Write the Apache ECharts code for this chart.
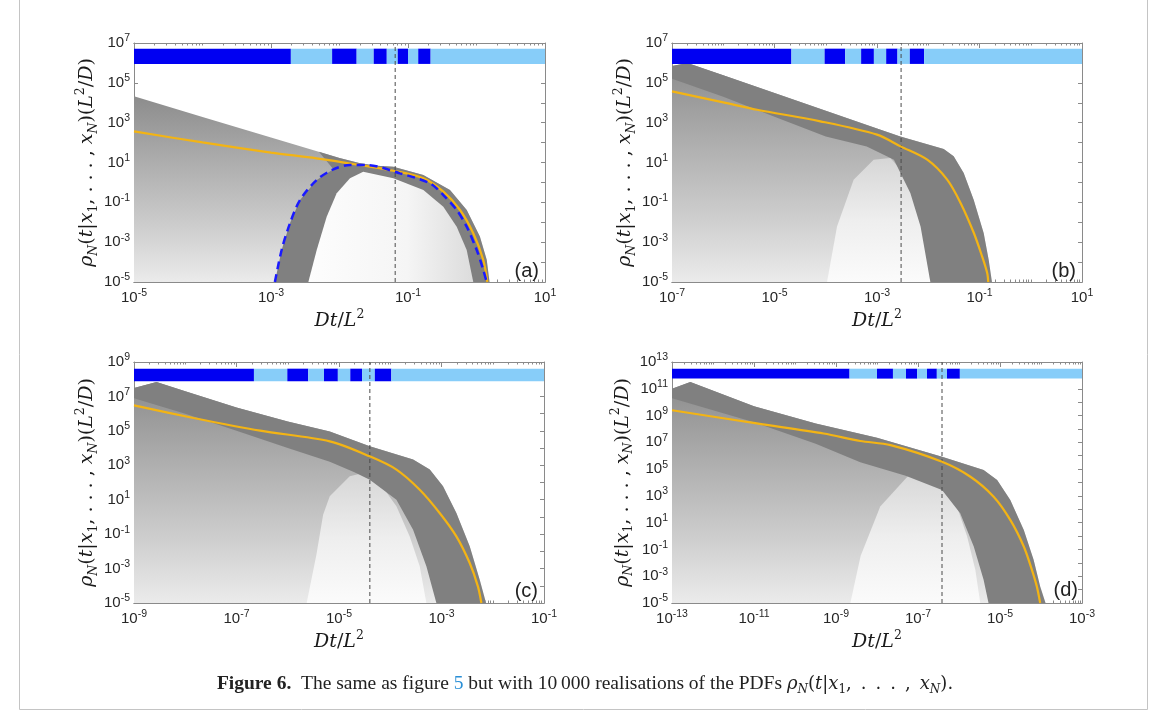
<!DOCTYPE html>
<html>
<head>
<meta charset="utf-8">
<script src="https://cdn.jsdelivr.net/npm/echarts@6/dist/echarts.min.js"></script>
<style>html,body{margin:0;padding:0;background:#fff}#c{width:1165px;height:717px}</style>
</head>
<body>
<div id="c"></div>
<script>
// ---------------- data ----------------
// Panel (a)
const xLabelsA = [1e-5, 1e-3, 1e-1, 1e1];
const yLabelsA = [1e-5, 1e-3, 1e-1, 1e1, 1e3, 1e5, 1e7];
const envelopeA = [[1e-5,2.1e4],[1e-4,1.95e3],[1e-3,182],[1e-2,17],[0.02,9.1],[0.035,6.9],[0.061,6.2],[0.167,2.35],[0.41,0.42],[0.72,0.041],[1.12,1.9e-3],[1.41,1.3e-4],[1.55,1e-5]];
const darkEdgeA = [[5e-3,35],[8.13e-3,4.54],[4.65e-3,1.32],[2.65e-3,0.131],[1.89e-3,8.8e-3],[1.43e-3,4.05e-4],[1.14e-3,1e-5]];
const holeA = [[3.51e-3,1e-5],[4.65e-3,4.05e-4],[6.5e-3,0.019],[9.1e-3,0.284],[0.01422,1.6],[0.0222,3.47],[0.0611,1.6],[0.1675,0.416],[0.328,0.0605],[0.514,6.0e-3],[0.719,4.05e-4],[0.897,1e-5]];
const orangeA = [[1e-5,363],[1e-4,102],[1e-3,31.6],[4.6e-3,16.2],[0.0199,7.5],[0.061,3.87],[0.1675,1.6],[0.328,0.342],[0.574,0.0412],[0.897,2.78e-3],[1.256,1.27e-4],[1.44,1e-5]];
const blueA = [[1.14e-3,1e-5],[1.43e-3,4.05e-4],[1.89e-3,8.8e-3],[2.65e-3,0.131],[4.65e-3,1.32],[8.13e-3,4.54],[0.01422,7.48],[0.0249,7.48],[0.0764,2.86],[0.2094,0.9],[0.328,0.233],[0.514,0.0412],[0.719,6.0e-3],[1.007,4.05e-4],[1.256,4.0e-5],[1.406,1e-5]];
const barA = [1e-5,1.95e-3,7.8e-3,0.0178,0.0316,0.049,0.0708,0.1,0.141,0.214,10];
const barYA = [8.9e5, 5.2e6];
const vlineA = 0.065;

// Panel (b)
const xLabelsB = [1e-7, 1e-5, 1e-3, 1e-1, 1e1];
const yLabelsB = [1e-5, 1e-3, 1e-1, 1e1, 1e3, 1e5, 1e7];
const envelopeB = [[1e-7,7.1e5],[2e-7,1e6],[1e-6,2.4e5],[1e-5,3.1e4],[1e-4,4e3],[1e-3,513],[2.85e-3,204],[0.02,47.6],[0.0313,20.4],[0.0491,2.97],[0.0769,0.136],[0.1205,2.88e-3],[0.151,1.32e-4],[0.175,1e-5]];
const darkEdgeB = [[1e-7,1.6e5],[1e-6,2.0e4],[1e-5,2.0e3],[1e-4,200],[6.3e-4,63],[2.14e-3,13.8],[4.47e-3,0.295],[7.08e-3,6.2e-3],[0.011,1e-5]];
const holeB = [[1.06e-4,1e-5],[1.66e-4,6.2e-3],[3.5e-4,1.37],[8.6e-4,13.8],[1.82e-3,16.8],[3.31e-3,2.95],[5.19e-3,0.136],[8.13e-3,1.95e-3],[0.011,1e-5]];
const orangeB = [[1e-7,3.7e4],[1e-6,1.05e4],[4.57e-6,4.47e3],[7.83e-5,1.17e3],[1e-3,251],[2.88e-3,64.6],[9.55e-3,13.8],[0.0234,1.38],[0.0427,0.0933],[0.0776,2.88e-3],[0.1122,1.95e-4],[0.1413,2.82e-5],[0.148,1e-5]];
const barB = [1e-7,2.14e-5,9.5e-5,2.4e-4,4.9e-4,8.7e-4,1.51e-3,2.51e-3,4.37e-3,8.3e-3,10];
const barYB = [8.9e5, 5.2e6];
const vlineB = 2.95e-3;

// Panel (c)
const xLabelsC = [1e-9, 1e-7, 1e-5, 1e-3, 1e-1];
const yLabelsC = [1e-5, 1e-3, 1e-1, 1e1, 1e3, 1e5, 1e7, 1e9];
const envelopeC = [[1e-9,3.1e7],[2.75e-9,6.9e7],[1e-8,2.0e7],[1e-7,2.3e6],[1e-6,3.5e5],[6.6e-6,9.3e4],[3.98e-5,1.26e4],[2.79e-4,2.14e3],[5.9e-4,562],[1.07e-3,60],[1.95e-3,1.7],[3.55e-3,0.0195],[5.55e-3,2.29e-4],[7.4e-3,1e-5]];
const darkEdgeC = [[1e-9,7.9e6],[1e-8,1e6],[1e-7,1e5],[1e-6,1e4],[6.6e-6,1.58e3],[2.0e-5,398],[3.98e-5,146],[1.32e-4,10],[2.79e-4,0.182],[5.07e-4,1.35e-3],[7.94e-4,1e-5]];
const holeC = [[2.34e-6,1e-5],[3.63e-6,6.5e-3],[4.9e-6,1.35],[6.6e-6,15.7],[1.62e-5,229],[2.95e-5,355],[6.24e-5,93],[1.32e-4,4.17],[2.4e-4,0.074],[3.76e-4,1.35e-3],[5.07e-4,1e-5]];
const orangeC = [[1e-9,3.0e6],[1.45e-8,5.6e5],[2.9e-7,1.02e5],[6.6e-6,2.45e4],[3.98e-5,3.3e3],[1.32e-4,562],[3.76e-4,38],[9.2e-4,1.7],[1.95e-3,0.074],[3.55e-3,2.09e-3],[5.13e-3,9.3e-5],[6.0e-3,1e-5]];
const barC = [1e-9,2.19e-7,9.8e-7,2.51e-6,5.1e-6,9.5e-6,1.66e-5,2.82e-5,5.0e-5,1.05e-4,0.1];
const barYC = [7.6e7, 4.1e8];
const vlineC = 4.0e-5;

// Panel (d)
const xLabelsD = [1e-13, 1e-11, 1e-9, 1e-7, 1e-5, 1e-3];
const yLabelsD = [1e-5, 1e-3, 1e-1, 1e1, 1e3, 1e5, 1e7, 1e9, 1e11, 1e13];
const envelopeD = [[1e-13,1.0e11],[2.8e-13,3.2e11],[1e-11,5.0e9],[3.2e-10,2.5e8],[1e-8,2.2e7],[3.85e-7,8.3e5],[3.98e-6,8.5e4],[8.5e-6,1.55e4],[1.78e-5,501],[3.8e-5,2.88],[6.6e-5,0.017],[9.55e-5,1.74e-4],[1.29e-4,1e-5]];
const darkEdgeD = [[1e-13,2.0e10],[1e-11,3.2e8],[3.2e-10,7.9e6],[3.9e-9,3.2e5],[5.0e-8,3.2e4],[3.85e-7,2.75e3],[1.07e-6,50],[2.29e-6,0.166],[3.98e-6,5.5e-4],[5.25e-6,1e-5]];
const holeD = [[2.24e-9,1e-5],[3.98e-9,0.032],[1.2e-8,158],[6.5e-8,4.8e4],[1.66e-7,8.5e4],[3.85e-7,1.55e4],[8.9e-7,158],[1.58e-6,0.93],[2.5e-6,3.0e-3],[3.3e-6,1e-5]];
const orangeD = [[1e-13,2.5e9],[1.17e-11,2.57e8],[5.0e-10,4.57e7],[3.9e-9,1.26e7],[2.14e-8,6.2e6],[3.85e-7,3.55e5],[1.9e-6,2.7e4],[7.0e-6,871],[1.78e-5,16.2],[3.8e-5,0.166],[6.0e-5,3.0e-3],[7.9e-5,1.74e-4],[9.55e-5,1e-5]];
const barD = [1e-13,2.14e-9,1e-8,2.45e-8,5.1e-8,9.5e-8,1.66e-7,2.88e-7,5.1e-7,1.05e-6,1e-3];
const barYD = [5.75e11, 3.16e12];
const vlineD = 3.85e-7;

const panelTags = ['(a)', '(b)', '(c)', '(d)'];

// ---------------- layout & style ----------------
const panels = [
  {left:134, top:43,  width:411, height:239, xLabels:xLabelsA, yLabels:yLabelsA, env:envelopeA, edge:darkEdgeA, hole:holeA, orange:orangeA, blue:blueA, bar:barA, barY:barYA, vline:vlineA, holeOnTop:true, tagPos:[539,281]},
  {left:672, top:43,  width:410, height:239, xLabels:xLabelsB, yLabels:yLabelsB, env:envelopeB, edge:darkEdgeB, hole:holeB, orange:orangeB, bar:barB, barY:barYB, vline:vlineB, tagPos:[1076,281]},
  {left:134, top:362, width:410, height:241, xLabels:xLabelsC, yLabels:yLabelsC, env:envelopeC, edge:darkEdgeC, hole:holeC, orange:orangeC, bar:barC, barY:barYC, vline:vlineC, tagPos:[538,601]},
  {left:672, top:362, width:410, height:241, xLabels:xLabelsD, yLabels:yLabelsD, env:envelopeD, edge:darkEdgeD, hole:holeD, orange:orangeD, bar:barD, barY:barYD, vline:vlineD, tagPos:[1078,600]}
];

const AX = '#8a8a8a';
const SANS = 'Liberation Sans';
const MATH = 'DejaVu Serif';
const SERIF = 'Liberation Serif';
const TXT = '#262626';
const DARK_BLUE = '#0000f2';
const LIGHT_BLUE = '#87cdf9';

const tickRich = {
  b: {fontFamily: SANS, fontSize: 15, color: TXT, lineHeight: 20},
  s: {fontFamily: SANS, fontSize: 10.5, color: TXT, lineHeight: 11, verticalAlign: 'top'}
};
const tickFmt = v => '{b|10}{s|' + Math.round(Math.log10(v)) + '}';

const mathRich = {
  i: {fontFamily: MATH, fontStyle: 'italic', fontSize: 19, color: '#1a1a1a', lineHeight: 26},
  n: {fontFamily: MATH, fontSize: 19, color: '#1a1a1a', lineHeight: 26},
  sub: {fontFamily: MATH, fontStyle: 'italic', fontSize: 12.5, color: '#1a1a1a', lineHeight: 13, verticalAlign: 'bottom'},
  sub1: {fontFamily: MATH, fontSize: 12.5, color: '#1a1a1a', lineHeight: 13, verticalAlign: 'bottom'},
  sup: {fontFamily: MATH, fontSize: 12.5, color: '#1a1a1a', lineHeight: 13, verticalAlign: 'top'}
};
const yName = '{i|ρ}{sub|N}{n|(}{i|t}{n||}{i|x}{sub1|1}{n|, . . . , }{i|x}{sub|N}{n|)(}{i|L}{sup|2}{n|/}{i|D}{n|)}';
const xName = '{i|Dt}{n|/}{i|L}{sup|2}';

function decades(lo, hi) {
  const out = [];
  for (let e = Math.round(Math.log10(lo)); e <= Math.round(Math.log10(hi)); e++) out.push(Number('1e' + e));
  return out;
}
function minors(lo, hi, majors) {
  const out = [];
  const a = Math.round(Math.log10(lo)), b = Math.round(Math.log10(hi));
  for (let e = a; e < b; e++) for (let k = 1; k <= 9; k++) {
    const v = Number(k + 'e' + e);
    if (majors.indexOf(v) < 0) out.push(v);
  }
  return out;
}

const option = {animation: false, backgroundColor: '#fff', grid: [], xAxis: [], yAxis: [], series: [], graphic: []};

function polygonSeries(i, pts, fill, z) {
  return {
    type: 'custom', coordinateSystem: 'cartesian2d', xAxisIndex: 4 * i, yAxisIndex: 2 * i,
    z: z, silent: true, clip: true, data: pts,
    renderItem: (params, api) => params.dataIndex === 0 ? {
      type: 'polygon', shape: {points: pts.map(q => api.coord(q))}, style: {fill: fill}
    } : null
  };
}

panels.forEach((p, i) => {
  const xr = [p.xLabels[0], p.xLabels[p.xLabels.length - 1]];
  const yr = [p.yLabels[0], p.yLabels[p.yLabels.length - 1]];
  option.grid.push({left: p.left, top: p.top, width: p.width, height: p.height, containLabel: false, outerBoundsMode: 'none'});

  const xMin = minors(xr[0], xr[1], p.xLabels);
  const common = {type: 'log', logBase: 10, gridIndex: i, min: xr[0], max: xr[1], splitLine: {show: false},
    axisLine: {onZero: false, lineStyle: {color: AX, width: 1}}};
  option.xAxis.push(
    Object.assign({}, common, {position: 'bottom',
      axisTick: {inside: true, length: 5, lineStyle: {color: AX}, customValues: p.xLabels},
      axisLabel: {customValues: p.xLabels, formatter: tickFmt, rich: tickRich, margin: 6},
      name: xName, nameLocation: 'middle', nameGap: 26, nameTextStyle: {rich: mathRich}}),
    Object.assign({}, common, {position: 'bottom',
      axisTick: {inside: true, length: 2.5, lineStyle: {color: AX}, customValues: xMin}, axisLabel: {show: false}}),
    Object.assign({}, common, {position: 'top',
      axisTick: {inside: true, length: 5, lineStyle: {color: AX}, customValues: p.xLabels}, axisLabel: {show: false}}),
    Object.assign({}, common, {position: 'top',
      axisTick: {inside: true, length: 2.5, lineStyle: {color: AX}, customValues: xMin}, axisLabel: {show: false}})
  );
  const yDec = decades(yr[0], yr[1]);
  const ycommon = {type: 'log', logBase: 10, gridIndex: i, min: yr[0], max: yr[1], splitLine: {show: false},
    axisLine: {onZero: false, lineStyle: {color: AX, width: 1}}};
  option.yAxis.push(
    Object.assign({}, ycommon, {position: 'left',
      axisTick: {inside: true, length: 4, lineStyle: {color: AX}, customValues: yDec},
      axisLabel: {customValues: p.yLabels, formatter: tickFmt, rich: tickRich, margin: 4},
      name: yName, nameLocation: 'middle', nameGap: 34, nameTextStyle: {rich: mathRich}}),
    Object.assign({}, ycommon, {position: 'right',
      axisTick: {inside: true, length: 4, lineStyle: {color: AX}, customValues: yDec}, axisLabel: {show: false}})
  );

  // light gradient cloud under the envelope
  const cloud = [[xr[0], yr[0]]].concat(p.env);
  option.series.push(polygonSeries(i, cloud, new echarts.graphic.LinearGradient(0, 0, 0, 1, [
    {offset: 0, color: '#8c8c8c'}, {offset: 0.3, color: '#a8a8a8'}, {offset: 0.7, color: '#cdcdcd'}, {offset: 1, color: '#ebebeb'}]), 1));
  // dense dark band
  const x0 = p.edge[0][0];
  const band = p.edge.concat(p.env.filter(q => q[0] >= x0).reverse());
  option.series.push(polygonSeries(i, band, '#808080', 3));
  // lighter hole
  const holeFill = p.holeOnTop
    ? new echarts.graphic.LinearGradient(0, 0, 1, 0, [{offset: 0, color: '#fdfdfd'}, {offset: 0.6, color: '#f5f5f5'}, {offset: 1, color: '#dcdcdc'}])
    : new echarts.graphic.LinearGradient(0, 0, 0, 1, [{offset: 0, color: '#d6d6d6'}, {offset: 0.5, color: '#eeeeee'}, {offset: 1, color: '#fbfbfb'}]);
  option.series.push(polygonSeries(i, p.hole, holeFill, p.holeOnTop ? 4 : 2));

  // colour strip at the top
  const segs = p.bar.slice(0, -1).map((b, k) => [b, p.bar[k + 1], p.barY[0], p.barY[1], k % 2 === 0 ? 1 : 0]);
  option.series.push({
    type: 'custom', coordinateSystem: 'cartesian2d', xAxisIndex: 4 * i, yAxisIndex: 2 * i, z: 5, silent: true,
    data: segs, encode: {x: [0, 1], y: [2, 3]},
    renderItem: (params, api) => {
      const a = api.coord([api.value(0), api.value(3)]);
      const b = api.coord([api.value(1), api.value(2)]);
      return {type: 'rect', shape: {x: a[0], y: a[1], width: b[0] - a[0], height: b[1] - a[1]},
        style: {fill: api.value(4) ? DARK_BLUE : LIGHT_BLUE}};
    }
  });

  // vertical dashed line
  option.series.push({type: 'line', xAxisIndex: 4 * i, yAxisIndex: 2 * i, z: 6, silent: true, symbol: 'none',
    data: [[p.vline, yr[0]], [p.vline, yr[1]]], lineStyle: {color: '#4a4a4a', width: 1, type: [4, 3]}});

  // orange curve
  option.series.push({type: 'line', xAxisIndex: 4 * i, yAxisIndex: 2 * i, z: 7, silent: true, symbol: 'none',
    smooth: 0.3, data: p.orange, lineStyle: {color: '#f3b414', width: 2.2}});

  if (p.blue) {
    option.series.push({type: 'line', xAxisIndex: 4 * i, yAxisIndex: 2 * i, z: 8, silent: true, symbol: 'none',
      smooth: 0.3, data: p.blue, lineStyle: {color: '#1a1aff', width: 2.5, type: [8, 5]}});
  }

  option.graphic.push({type: 'text', x: p.tagPos[0], y: p.tagPos[1], z: 100,
    style: {text: panelTags[i], font: '20px "' + SANS + '"', fill: '#222', align: 'right', verticalAlign: 'bottom'}});
});

// frame and caption
option.graphic.push({type: 'polyline', z: 100, shape: {points: [[19.5, 0], [19.5, 709.5], [1147.5, 709.5], [1147.5, 0]]},
  style: {stroke: '#c4c4c4', lineWidth: 1, fill: null}});
const sp = '\u2002';
option.graphic.push({type: 'text', x: 585, y: 684, z: 100, style: {
  text: '{b|Figure 6.}{r|  The same as figure }{l|5}{r| but with 10\u2009000 realisations of the PDFs }{i|ρ}{s|N}{m|(}{i|t}{m||}{i|x}{s1|1}{m|,' + sp + '.' + sp + '.' + sp + '.' + sp + ',' + sp + '}{i|x}{s|N}{m|).}',
  align: 'center', verticalAlign: 'middle',
  rich: {
    b: {fontFamily: SERIF, fontWeight: 'bold', fontSize: 19.5, fill: '#222', lineHeight: 24},
    r: {fontFamily: SERIF, fontSize: 19.5, fill: '#222', lineHeight: 24},
    l: {fontFamily: SERIF, fontSize: 19.5, fill: '#2a8fd6', lineHeight: 24},
    m: {fontFamily: MATH, fontSize: 18, fill: '#222', lineHeight: 24},
    i: {fontFamily: MATH, fontStyle: 'italic', fontSize: 18, fill: '#222', lineHeight: 24},
    s: {fontFamily: MATH, fontStyle: 'italic', fontSize: 12, fill: '#222', lineHeight: 12, verticalAlign: 'bottom'},
    s1: {fontFamily: MATH, fontSize: 12, fill: '#222', lineHeight: 12, verticalAlign: 'bottom'}
  }
}});

const chart = echarts.init(document.getElementById('c'), null, {renderer: 'canvas'});
chart.setOption(option);
</script>
</body>
</html>
